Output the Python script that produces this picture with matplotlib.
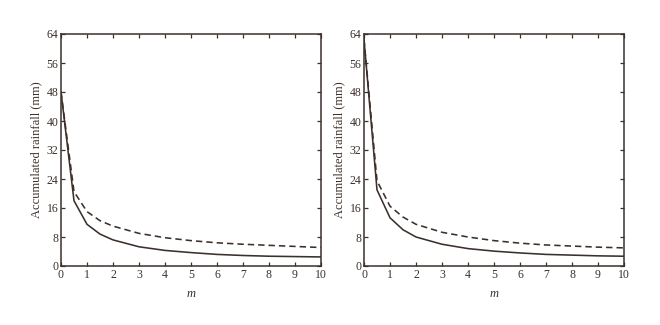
import matplotlib
matplotlib.use("Agg")
import matplotlib.pyplot as plt

# sample points along m
m = [0, 0.5, 1, 1.5, 2, 3, 4, 5, 6, 7, 8, 9, 10]

# left panel
left_solid = [48, 18, 11.5, 8.8, 7.2, 5.3, 4.3, 3.7, 3.2, 2.9, 2.7, 2.6, 2.5]
left_dashed = [48, 20.5, 15, 12.5, 11, 9, 7.8, 7, 6.4, 6, 5.7, 5.4, 5.1]

# right panel
right_solid = [62.5, 21, 13.3, 10, 8, 6, 4.8, 4.1, 3.6, 3.2, 3, 2.8, 2.7]
right_dashed = [62.5, 23.5, 16.5, 13.5, 11.5, 9.3, 8, 7, 6.3, 5.8, 5.5, 5.2, 5]

x_ticks = list(range(0, 11))
y_ticks = [0, 8, 16, 24, 32, 40, 48, 56, 64]

ink = "#3b302b"
plt.rcParams["font.family"] = ["Liberation Serif", "DejaVu Serif"]

fig = plt.figure(figsize=(6.6, 3.25), dpi=100)
W, H = 660, 325
panels = [
    (61, left_solid, left_dashed),
    (364, right_solid, right_dashed),
]
for x0, solid, dashed in panels:
    ax = fig.add_axes([x0 / W, 1 - 266 / H, 260 / W, (266 - 34) / H])
    ax.plot(m, solid, color=ink, lw=1.15, ls="-")
    ax.plot(m, dashed, color=ink, lw=1.15, ls=(0, (4, 2.5)))
    ax.set_xlim(0, 10)
    ax.set_ylim(0, 64)
    ax.set_xticks(x_ticks)
    ax.set_yticks(y_ticks)
    ax.tick_params(direction="in", top=True, right=True, length=3,
                   width=0.9, color=ink, labelcolor=ink, labelsize=8.5, pad=2)
    for s in ax.spines.values():
        s.set_color(ink)
        s.set_linewidth(1.1)
    ax.set_xlabel("m", style="italic", color=ink, fontsize=9, labelpad=5)
    ax.set_ylabel("Accumulated rainfall (mm)", color=ink, fontsize=9, labelpad=3)

fig.savefig("out.png", dpi=100)
